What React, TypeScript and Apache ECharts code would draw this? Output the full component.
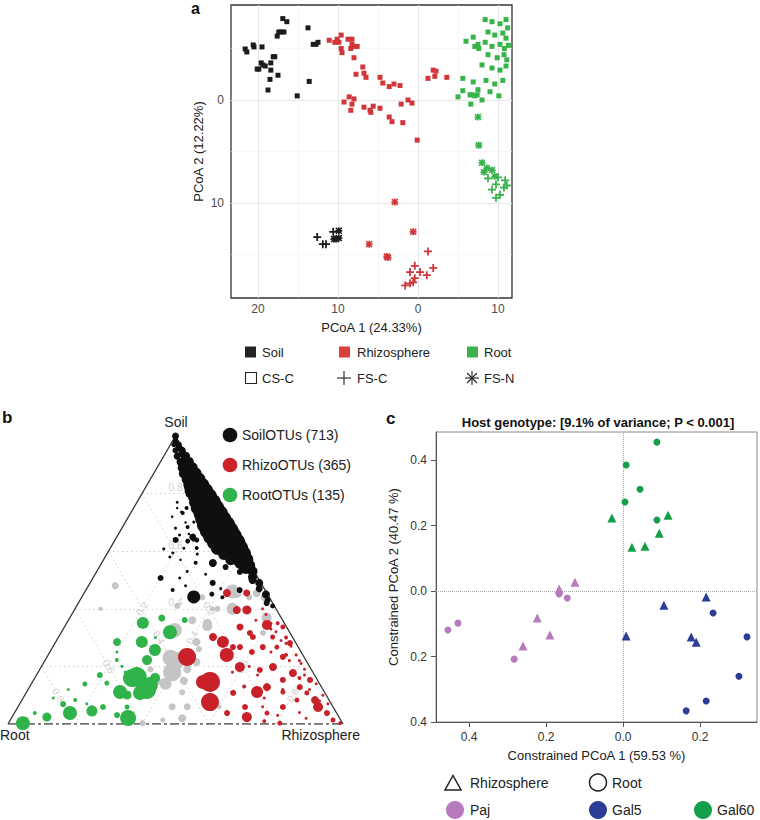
import React, { useEffect, useRef } from "react";
import * as echarts from "echarts";

const FONT = "'Liberation Sans', Arial, Helvetica, sans-serif";

// ---------------- Panel a (PCoA) ----------------
const aXLabels = [-20, -10, 0, 10];
const aYLabels = [0, -10];
const aXGridMajor = [-20, -10, 0, 10];
const aXGridMinor = [-15, -5, 5];
const aYGridMajor = [0, -10];
const aYGridMinor = [5, -5, -15];
const A_XMIN = -23.375, A_XMAX = 11.75, A_YMIN = -19.22, A_YMAX = 9.22;

const soilCSC = [
  [-21.6, 4.95], [-21.4, 4.66], [-20.6, 5.34], [-20.5, 5.15], [-19.5, 5.15], [-20.1, 3.0], [-19.9, 3.0],
  [-19.6, 3.6], [-19.4, 3.4], [-19.1, 3.3], [-18.75, 0.97], [-18.5, 2.0], [-18.4, 3.6], [-18.4, 2.9],
  [-18.1, 4.2], [-17.9, 4.2], [-17.6, 6.2], [-17.4, 6.6], [-17.1, 6.6], [-16.75, 6.6], [-16.9, 7.9],
  [-16.4, 7.6], [-17.5, 2.4], [-15.1, 0.4], [-13.75, 7.0], [-13.6, 1.8], [-13.1, 5.4], [-12.75, 5.4], [-12.5, 5.6],
];
const soilFSC = [[-12.6, -13.3], [-11.9, -14.0], [-11.5, -14.0], [-10.6, -12.8]];
const soilFSN = [[-9.9, -12.7], [-10.5, -13.5], [-10.25, -13.5], [-9.9, -13.4]];

const rhizoCSC = [
  [-11.1, 5.8], [-10.4, 5.6], [-10.1, 5.9], [-9.6, 6.3], [-9.9, 5.6], [-8.75, 5.9], [-8.25, 5.9], [-8.25, 5.4],
  [-7.9, 5.2], [-7.6, 5.2], [-8.4, 5.0], [-9.6, 5.0], [-9.5, 4.6], [-8.0, 4.1], [-6.9, 3.2], [-7.75, 2.5],
  [-6.75, 2.6], [-6.5, 2.2], [-4.75, 2.2], [-4.4, 1.65], [-3.6, 1.3], [-3.0, 1.55], [-2.25, 1.4], [-9.25, -0.2],
  [-8.6, 0.3], [-8.0, 0.1], [-8.25, -0.4], [-8.4, -1.0], [-6.75, -0.7], [-6.0, -1.0], [-5.6, -0.6], [-5.9, -1.2],
  [-4.75, -0.8], [-3.6, -1.65], [-3.25, -2.1], [-2.1, -0.4], [-1.25, 0.0], [-0.75, -0.3], [-1.9, -2.2],
  [-0.1, -3.9], [1.25, 2.1], [1.9, 2.9], [2.25, 2.8], [2.1, 2.3], [3.6, 2.2],
];
const rhizoFSN = [[-2.9, -9.9], [-0.6, -12.8], [-6.1, -14.0], [-3.9, -15.2], [-3.75, -15.3]];
const rhizoFSC = [
  [1.25, -14.7], [-0.4, -16.1], [-1.0, -16.7], [0.25, -16.7], [1.9, -16.3], [1.1, -17.0], [-0.4, -17.3],
  [-0.6, -17.7], [-1.0, -17.8], [-1.6, -18.0],
];

const rootCSC = [
  [6.0, 5.7], [6.9, 6.1], [7.5, 5.4], [7.1, 5.2], [7.6, 5.0], [5.6, 2.1], [6.9, 1.75], [5.6, 0.9], [5.0, 0.3],
  [6.5, 0.5], [6.75, 0.5], [7.1, 0.4], [7.4, 0.5], [7.5, 1.0], [6.6, -0.4], [8.4, 7.8], [9.25, 7.6], [10.25, 7.4],
  [11.0, 7.8], [11.2, 7.0], [8.75, 6.6], [9.6, 6.3], [10.6, 6.5], [11.0, 6.0], [8.4, 5.6], [9.25, 5.2], [10.25, 5.4],
  [10.8, 5.0], [11.3, 5.3], [8.75, 4.4], [9.9, 4.1], [10.75, 4.4], [11.1, 3.9], [8.0, 3.4], [9.25, 3.1],
  [10.25, 2.9], [11.0, 3.3], [8.5, 1.9], [9.6, 1.55], [10.6, 1.9], [9.0, 0.8], [10.1, 0.4], [8.0, 0.0],
];
const rootFSN = [[7.5, -1.65], [7.6, -4.4], [8.0, -6.1], [8.6, -6.6], [9.25, -6.8], [8.25, -7.0], [9.6, -7.4]];
const rootFSC = [
  [8.75, -7.6], [10.0, -7.5], [10.9, -7.8], [9.75, -8.2], [10.75, -8.5], [9.25, -8.7], [10.25, -9.2], [11.1, -8.3], [9.75, -9.5],
];

// ---------------- Panel b (ternary) : [soil %, rhizosphere %, bubble size]; root % = 100 - soil - rhizo ----------------
const ternTicks = [0.2, 0.4, 0.6, 0.8];
const blackOTUs = [
  [100, 0, 7], [99, 0.5, 5], [98, 1, 6], [97, 2.5, 6], [97, 1, 5], [96, 3, 7], [95, 4.5, 7], [95, 2.5, 6], [94, 5, 8],
  [93, 6.5, 9], [93, 4, 7], [92, 7, 9], [91, 8.5, 10], [91, 6, 8], [90, 9, 10], [89, 10.5, 11], [89, 7.5, 9], [88, 11, 11],
  [87, 12.5, 12], [87, 9, 10], [86, 12.5, 12], [85, 14.5, 13], [85, 11, 11], [84, 14.5, 13], [83, 16.5, 14], [83, 12.5, 11],
  [82, 16, 14], [81, 18.5, 15], [81, 14, 12], [80, 18, 15], [79, 20.5, 16], [79, 16, 12], [78, 19.5, 15], [77, 22.5, 17],
  [77, 17.5, 13], [76, 21.5, 16], [75, 24.5, 17], [75, 19, 13], [74, 23, 16], [73, 26.5, 18], [73, 21, 14], [72, 25, 17],
  [71, 28.5, 18], [71, 22.5, 14], [70, 26.5, 17], [69, 30.5, 19], [69, 24, 14], [68, 28.5, 17], [67, 32.5, 19], [67, 26, 15],
  [66, 30.5, 18], [65, 34.5, 19], [65, 28, 15], [64, 32.5, 18], [63, 36.5, 19], [63, 30, 14], [62, 34.5, 17], [61, 38.5, 18],
  [61, 32, 13], [60, 37, 16], [59, 40.5, 17], [59, 35, 12], [58, 39, 15], [57, 42.5, 15], [57, 38, 11], [56, 41.5, 13],
  [55, 44.5, 12], [54, 44, 11], [53, 46.5, 10], [51, 47.5, 9], [49, 50.5, 8], [47, 51.5, 7], [45, 54.5, 8], [43, 56, 6], [41, 58.5, 5],
  [79.5, 13.9, 4], [73.6, 15, 3], [70.1, 20.4, 3], [63.9, 18.1, 6], [63.5, 21.9, 5], [63.9, 24.4, 5], [60.8, 16.1, 3],
  [58, 19.3, 3], [50.7, 20.2, 6], [46.5, 25.9, 4], [44.1, 33.4, 13], [50.7, 25.9, 3], [55.9, 33.2, 8], [54.5, 37.7, 6],
  [45.1, 38.3, 5], [52.8, 42.8, 6], [50, 48, 8], [42, 56.2, 6], [73.3, 15.5, 4], [78.8, 14.8, 3], [64.9, 22.7, 7],
  [49, 36.6, 6], [46.5, 45.9, 6], [68.4, 19.4, 4], [65.6, 18.4, 3], [64.2, 23.3, 5], [61.1, 25.8, 4], [59.4, 19.5, 3], [75, 15.8, 4],
  [77, 12, 3], [72, 13, 2.5], [68, 16, 3], [66, 21, 2.5], [61, 22, 3], [57, 23, 2.5], [53, 27, 3], [48, 29, 3], [56, 28, 4],
  [52, 33, 3], [47, 40, 3], [44, 42, 4], [70, 18, 2.5], [75, 13, 2.5], [82, 12, 3], [59, 27, 3],
];
const grayOTUs = [
  [48, 8, 7], [41, 30, 6], [35, 42, 9], [45.5, 45.5, 10], [40, 47, 12], [45.5, 51.5, 8], [32, 33, 12], [22, 39, 18],
  [23, 37, 16], [18, 40, 18], [14, 40, 12], [15, 37, 8], [15, 45, 8], [19, 44, 8], [21.5, 45.5, 8], [28.5, 42, 8],
  [11, 46.5, 6], [6, 46, 7], [2, 51, 8], [0.3, 40, 6], [1.4, 45.5, 5], [44, 36, 6], [40, 41, 5], [26, 44, 6], [19, 33, 6],
  [6, 22, 4], [40, 7.6, 4], [36, 37, 8], [6, 50.5, 7], [6, 60, 5], [37, 58.7, 10], [31.6, 60.3, 6], [34, 42.5, 10],
  [44, 50, 6], [44, 54.6, 8], [40, 42.5, 6], [32.6, 33.5, 14], [46, 44, 14],
];
const redOTUs = [
  [23.3, 41.8, 18], [14.6, 53, 20], [7.6, 56.5, 18], [14.6, 50.9, 14], [28.5, 49.9, 12], [24, 53.3, 14], [19.8, 59.3, 10],
  [39.6, 48.5, 8], [39.6, 51.5, 9], [34.4, 60.1, 10], [11.1, 68.8, 12], [12.8, 70.9, 8], [2.4, 70.1, 10], [5.9, 67.8, 6],
  [26.7, 53.8, 6], [25, 60.3, 6], [19.8, 69.2, 8], [23.3, 70.4, 6], [28.1, 70.1, 6], [17.7, 76.2, 8], [15.3, 74.4, 6],
  [12.8, 80.7, 6], [15.3, 82.5, 6], [8.3, 87.5, 8], [5.9, 89.6, 10], [8.3, 82.1, 5], [5.9, 79.1, 6], [3.8, 75.4, 5],
  [0.3, 81, 5], [3.8, 93.3, 6], [1.4, 96.3, 5], [3.8, 63.5, 6], [30.2, 46.1, 8], [45.5, 48.5, 7], [33.7, 52.4, 7],
  [30.2, 58, 6], [26.7, 62.7, 6], [30.2, 63.9, 5], [11.1, 76.5, 5], [10.8, 83.8, 5], [0.3, 99, 4], [10.8, 61.8, 6],
  [18.75, 65.8, 6], [45.5, 42.6, 8], [31.6, 56.4, 6], [33.7, 65.2, 5], [26.7, 66.9, 5], [26.7, 55.9, 6],
  [20, 62, 3], [17, 66, 3], [22, 73, 3], [9, 72, 3], [14, 85, 3], [4, 85, 3], [7, 92, 3], [2, 88, 3], [16, 79, 4],
  [12, 76, 3], [25, 66, 3], [29, 67, 3], [35, 61, 3], [21, 77, 3], [10, 89, 3], [1, 76, 4], [6, 73, 3], [3, 79, 3],
  [18, 58, 3], [13, 64, 4], [36, 56, 3], [24, 71, 4],
  [38, 58, 3], [33, 62, 3], [28, 69, 3], [24, 74, 3], [19, 79, 3], [15, 83, 3], [30, 68, 4], [35, 63, 4], [40, 56, 3],
  [12, 84, 3], [8, 89, 3], [27, 71, 3], [22, 76, 3], [32, 64, 3], [17, 80, 3],
];
const greenOTUs = [
  [0.3, 4.3, 14], [2.4, 10.4, 9], [3.8, 16.6, 14], [6.9, 13, 6], [4.5, 22.8, 11], [5.9, 25.4, 6], [3.1, 31, 6],
  [2.1, 34.8, 16], [10.1, 30.5, 9], [11.1, 27.9, 14], [16, 29, 18], [11.8, 35.6, 18], [16.3, 30.3, 20], [13.5, 35.6, 16],
  [10.8, 34, 14], [16, 35.9, 10], [22.2, 30.4, 10], [17, 18.9, 6], [13.9, 16, 5], [14.2, 22.4, 5], [28.5, 18.3, 8],
  [28.5, 25.7, 12], [35.1, 22.7, 12], [36.8, 27.5, 7], [31.9, 32.4, 14], [25.7, 31, 12], [8.3, 15.9, 4], [3.8, 6.1, 4],
  [22.2, 21.4, 4], [36.1, 34.7, 6], [5.9, 32.6, 5], [9, 9, 3], [20, 24, 3], [25, 20, 3], [12, 12, 3], [7, 20, 3],
  [30, 29, 3], [18, 26, 3],
];
const bLegend = [
  { name: "SoilOTUs (713)", color: "#111111" },
  { name: "RhizoOTUs (365)", color: "#cc2229" },
  { name: "RootOTUs (135)", color: "#2fb34a" },
];

// ---------------- Panel c (CAP) ----------------
const cXLabels = [-0.4, -0.2, 0, 0.2];
const cYLabels = [0.4, 0.2, 0, -0.2, -0.4];
const C_XMIN = -0.486, C_XMAX = 0.348, C_YMIN = -0.4, C_YMAX = 0.486;
const gal60Root = [[0.088, 0.455], [0.008, 0.385], [0.044, 0.311], [0.005, 0.272], [0.088, 0.217]];
const gal60Rhizo = [[-0.029, 0.223], [0.117, 0.232], [0.094, 0.177], [0.023, 0.134], [0.057, 0.137]];
const pajRoot = [[-0.455, -0.119], [-0.429, -0.098], [-0.283, -0.208], [-0.166, -0.009], [-0.145, -0.021]];
const pajRhizo = [[-0.166, 0.006], [-0.125, 0.027], [-0.223, -0.082], [-0.19, -0.134], [-0.26, -0.168]];
const gal5Rhizo = [[0.216, -0.018], [0.106, -0.043], [0.008, -0.137], [0.177, -0.14], [0.19, -0.156]];
const gal5Root = [[0.234, -0.067], [0.322, -0.14], [0.301, -0.26], [0.216, -0.336], [0.164, -0.366]];

const COL = {
  soil: "#1c1c1c", rhizo: "#d0363a", root: "#37b34a",
  bBlack: "#0f0f0f", bRed: "#c8212a", bGreen: "#2fb34a", bGray: "#c5c5c5",
  paj: "#b67abd", gal5: "#2d3d97", gal60: "#14a04b",
};

const PLUS = "path://M3.9,0H6.1V3.9H10V6.1H6.1V10H3.9V6.1H0V3.9H3.9Z";
const ASTER = "path://M3.8,0H6.2V10H3.8Z M0,3.8H10V6.2H0Z M1.6,0L10,8.4L8.4,10L0,1.6Z M8.4,0L10,1.6L1.6,10L0,8.4Z";

const TH = 0.866;
const tern = (s: number, rz: number) => [rz + s / 2, s * TH];
const ternData = (arr: number[][]) => arr.map(([s, rz, size]) => { const p = tern(s / 100, rz / 100); return [p[0], p[1], size]; });

function buildOption() {
  const series: any[] = [];
  const gl = (xa: number, ya: number, segs: number[][][], color: string, width: number, type: any = "solid") => ({
    type: "lines", coordinateSystem: "cartesian2d", xAxisIndex: xa, yAxisIndex: ya, silent: true, z: 1,
    lineStyle: { color, width, type, opacity: 1, curveness: 0 },
    data: segs.map((c) => ({ coords: c })),
  });
  series.push(gl(0, 0, [
    ...aXGridMinor.map((v) => [[v, A_YMIN], [v, A_YMAX]]),
    ...aYGridMinor.map((v) => [[A_XMIN, v], [A_XMAX, v]]),
  ], "#f2f2f2", 0.6));
  series.push(gl(0, 0, [
    ...aXGridMajor.map((v) => [[v, A_YMIN], [v, A_YMAX]]),
    ...aYGridMajor.map((v) => [[A_XMIN, v], [A_XMAX, v]]),
  ], "#e6e6e6", 1));
  const sc = (data: number[][], symbol: string, size: number, color: string) => ({
    type: "scatter", xAxisIndex: 0, yAxisIndex: 0, data, symbol, symbolSize: size, z: 3,
    itemStyle: { color, opacity: 1 },
  });
  series.push(sc(soilCSC, "rect", 5, COL.soil), sc(soilFSC, PLUS, 8, COL.soil), sc(soilFSN, ASTER, 7, COL.soil));
  series.push(sc(rhizoCSC, "rect", 5, COL.rhizo), sc(rhizoFSC, PLUS, 8, COL.rhizo), sc(rhizoFSN, ASTER, 7, COL.rhizo));
  series.push(sc(rootCSC, "rect", 5, COL.root), sc(rootFSC, PLUS, 8, COL.root), sc(rootFSN, ASTER, 7, COL.root));

  // panel b: ternary grid
  const tGrid: number[][][] = [];
  ternTicks.forEach((v) => {
    tGrid.push([tern(v, 0), tern(v, 1 - v)]);
    tGrid.push([tern(0, v), tern(1 - v, v)]);
    tGrid.push([tern(0, 1 - v), tern(1 - v, 0)]);
  });
  series.push(gl(1, 1, tGrid, "#cfcfcf", 1, [1.5, 3]));
  series.push(gl(1, 1, [[tern(0, 0), tern(1, 0)], [tern(1, 0), tern(0, 1)]], "#333333", 1.3));
  series.push(gl(1, 1, [[tern(0, 0), tern(0, 1)]], "#444444", 1.6, [9, 3, 3, 3]));
  const tLabels: any[] = [];
  ternTicks.forEach((v) => {
    tLabels.push({ name: String(v), value: tern(v, (1 - v) / 2), label: { rotate: 0, offset: [0, -6] } });
    tLabels.push({ name: String(v), value: tern((1 - v) / 2, v), label: { rotate: 60 } });
    tLabels.push({ name: String(v), value: tern((1 - v) / 2, (1 - v) / 2), label: { rotate: -60 } });
  });
  series.push({
    type: "scatter", xAxisIndex: 1, yAxisIndex: 1, data: tLabels, symbolSize: 1, silent: true, z: 2,
    itemStyle: { color: "rgba(0,0,0,0)" },
    label: { show: true, position: "inside", formatter: "{b}", color: "#c4c4c4", fontSize: 10, fontFamily: FONT },
  });
  const bs = (arr: number[][], color: string, z: number) => ({
    type: "scatter", xAxisIndex: 1, yAxisIndex: 1, data: ternData(arr), z,
    symbolSize: (v: number[]) => v[2], itemStyle: { color, opacity: 1 },
  });
  series.push(bs(grayOTUs, COL.bGray, 3), bs(redOTUs, COL.bRed, 4), bs(greenOTUs, COL.bGreen, 5), bs(blackOTUs, COL.bBlack, 6));

  // panel c
  series.push(gl(2, 2, [[[0, C_YMIN], [0, C_YMAX]], [[C_XMIN, 0], [C_XMAX, 0]]], "#a8a8a8", 1, "dotted"));
  const cs = (data: number[][], symbol: string, size: number, color: string) => ({
    type: "scatter", xAxisIndex: 2, yAxisIndex: 2, data, symbol, symbolSize: size, z: 3, itemStyle: { color, opacity: 1 },
  });
  series.push(
    cs(gal60Root, "circle", 7, COL.gal60), cs(gal60Rhizo, "triangle", 9, COL.gal60),
    cs(pajRoot, "circle", 7, COL.paj), cs(pajRhizo, "triangle", 9, COL.paj),
    cs(gal5Root, "circle", 7, COL.gal5), cs(gal5Rhizo, "triangle", 9, COL.gal5),
  );

  const txt = (x: number, y: number, text: string, o: any = {}) => ({
    type: "text", x, y, silent: true,
    style: { text, fontFamily: FONT, fontSize: 13, fill: "#222", align: "left", verticalAlign: "middle", ...o },
  });
  const graphic: any[] = [
    txt(191, 0, "a", { fontSize: 16, fontWeight: "bold", fill: "#111", verticalAlign: "top" }),
    txt(2, 417, "b", { fontSize: 17, fontWeight: "bold", fill: "#111" }),
    txt(386, 418, "c", { fontSize: 17, fontWeight: "bold", fill: "#111" }),
    { type: "rect", shape: { x: 245, y: 346.5, width: 11, height: 11 }, style: { fill: "#222" } },
    txt(262, 352, "Soil"),
    { type: "rect", shape: { x: 339, y: 346.5, width: 11, height: 11 }, style: { fill: "#d9403a" } },
    txt(357, 352, "Rhizosphere"),
    { type: "rect", shape: { x: 467, y: 346.5, width: 11, height: 11 }, style: { fill: "#3cb44b" } },
    txt(484, 352, "Root"),
    { type: "rect", shape: { x: 245.5, y: 372.5, width: 11, height: 11 }, style: { fill: "none", stroke: "#222", lineWidth: 1.1 } },
    txt(262, 378, "CS-C"),
    { type: "line", shape: { x1: 337, y1: 378, x2: 351, y2: 378 }, style: { stroke: "#222", lineWidth: 1.1 } },
    { type: "line", shape: { x1: 344, y1: 371, x2: 344, y2: 385 }, style: { stroke: "#222", lineWidth: 1.1 } },
    txt(357, 378, "FS-C"),
    { type: "line", shape: { x1: 465, y1: 378, x2: 479, y2: 378 }, style: { stroke: "#222", lineWidth: 1.1 } },
    { type: "line", shape: { x1: 472, y1: 371, x2: 472, y2: 385 }, style: { stroke: "#222", lineWidth: 1.1 } },
    { type: "line", shape: { x1: 467, y1: 373, x2: 477, y2: 383 }, style: { stroke: "#222", lineWidth: 1.1 } },
    { type: "line", shape: { x1: 477, y1: 373, x2: 467, y2: 383 }, style: { stroke: "#222", lineWidth: 1.1 } },
    txt(484, 378, "FS-N"),
    txt(176, 422, "Soil", { fontSize: 14, align: "center" }),
    txt(0, 735, "Root", { fontSize: 14 }),
    txt(360, 735, "Rhizosphere", { fontSize: 14, align: "right" }),
    txt(598, 422, "Host genotype: [9.1% of variance; P < 0.001]", { fontSize: 13, fontWeight: "bold", align: "center", fill: "#111" }),
    { type: "polygon", shape: { points: [[445, 790], [461, 790], [453, 775.5]] }, style: { fill: "none", stroke: "#222", lineWidth: 1.5 } },
    txt(470, 783, "Rhizosphere", { fontSize: 14 }),
    { type: "circle", shape: { cx: 598, cy: 782.5, r: 8.5 }, style: { fill: "none", stroke: "#222", lineWidth: 1.5 } },
    txt(612, 783, "Root", { fontSize: 14 }),
    { type: "circle", shape: { cx: 455, cy: 810, r: 9 }, style: { fill: COL.paj } },
    txt(470, 810, "Paj", { fontSize: 14 }),
    { type: "circle", shape: { cx: 598, cy: 810, r: 9 }, style: { fill: COL.gal5 } },
    txt(612, 810, "Gal5", { fontSize: 14 }),
    { type: "circle", shape: { cx: 703, cy: 810, r: 9 }, style: { fill: COL.gal60 } },
    txt(717, 810, "Gal60", { fontSize: 14 }),
  ];
  bLegend.forEach((l, i) => {
    graphic.push({ type: "circle", shape: { cx: 230, cy: 435 + i * 30, r: 7.3 }, style: { fill: l.color } });
    graphic.push(txt(242, 435 + i * 30, l.name, { fontSize: 14 }));
  });

  const tick = (vals: number[], len: number, color: string) => ({ show: true, customValues: vals, length: len, inside: false, lineStyle: { color, width: 1 } });
  const lab = (vals: number[], fmt: (v: number) => string, margin: number, color: string, fs: number) => ({
    show: true, customValues: vals, formatter: fmt, margin, color, fontSize: fs, fontFamily: FONT,
  });
  const abs0 = (v: number) => String(Math.abs(Math.round(v)));
  const abs1 = (v: number) => Math.abs(v).toFixed(1);

  return {
    animation: false,
    textStyle: { fontFamily: FONT },
    grid: [
      { left: 231, top: 5, width: 281, height: 293, show: true, borderColor: "#333", borderWidth: 1.3, backgroundColor: "#fff", containLabel: false },
      { left: 8, top: 436, width: 335, height: 288, show: false, containLabel: false },
      { left: 436, top: 432, width: 321, height: 290, show: true, borderColor: "#8a8a8a", borderWidth: 1, containLabel: false },
    ],
    xAxis: [
      {
        gridIndex: 0, type: "value", min: A_XMIN, max: A_XMAX, axisLine: { show: false }, splitLine: { show: false },
        axisTick: tick(aXLabels, 3, "#333"), axisLabel: lab(aXLabels, abs0, 5, "#4d4d4d", 12),
        name: "PCoA 1 (24.33%)", nameLocation: "middle", nameGap: 23, nameTextStyle: { fontSize: 13, color: "#222", fontFamily: FONT },
      },
      { gridIndex: 1, type: "value", min: 0, max: 1, show: false },
      {
        gridIndex: 2, type: "value", min: C_XMIN, max: C_XMAX, splitLine: { show: false },
        axisLine: { show: true, onZero: false, lineStyle: { color: "#555", width: 1 } },
        axisTick: tick(cXLabels, 5, "#555"), axisLabel: lab(cXLabels, abs1, 9, "#333", 12),
        name: "Constrained PCoA 1 (59.53 %)", nameLocation: "middle", nameGap: 27, nameTextStyle: { fontSize: 13, color: "#222", fontFamily: FONT },
      },
    ],
    yAxis: [
      {
        gridIndex: 0, type: "value", min: A_YMIN, max: A_YMAX, axisLine: { show: false }, splitLine: { show: false },
        axisTick: tick(aYLabels, 3, "#333"), axisLabel: lab(aYLabels, abs0, 7, "#4d4d4d", 12),
        name: "PCoA 2 (12.22%)", nameLocation: "middle", nameGap: 26, nameTextStyle: { fontSize: 13, color: "#222", fontFamily: FONT },
      },
      { gridIndex: 1, type: "value", min: 0, max: TH, show: false },
      {
        gridIndex: 2, type: "value", min: C_YMIN, max: C_YMAX, splitLine: { show: false },
        axisLine: { show: true, onZero: false, lineStyle: { color: "#555", width: 1 } },
        axisTick: tick(cYLabels, 5, "#555"), axisLabel: lab(cYLabels, abs1, 9, "#333", 12),
        name: "Constrained PCoA 2 (40.47 %)", nameLocation: "middle", nameGap: 36, nameTextStyle: { fontSize: 13, color: "#222", fontFamily: FONT },
      },
    ],
    series,
    graphic,
  };
}

export default function App() {
  const ref = useRef<HTMLDivElement>(null);
  useEffect(() => {
    if (!ref.current) return;
    const chart = echarts.init(ref.current, undefined, { renderer: "svg" });
    chart.setOption(buildOption() as any);
    return () => chart.dispose();
  }, []);
  return <div ref={ref} style={{ position: "absolute", left: 0, top: 0, width: 760, height: 820, background: "#fff" }} />;
}
